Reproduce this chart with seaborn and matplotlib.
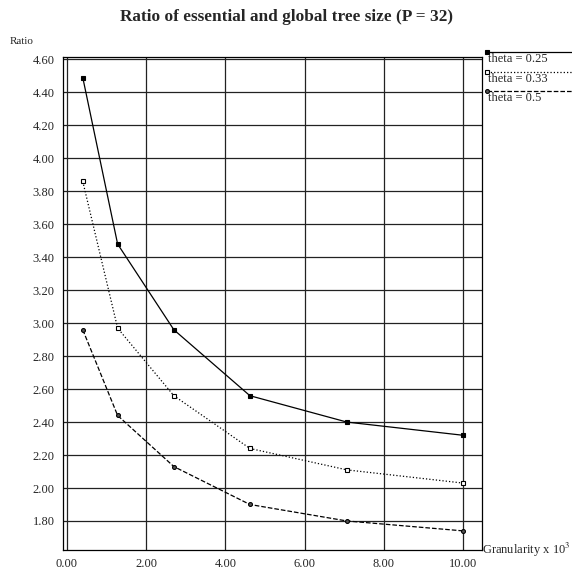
import matplotlib
matplotlib.use('Agg')
import matplotlib.pyplot as plt
import seaborn as sns
import pandas as pd
from matplotlib.lines import Line2D

granularity = [0.40, 1.28, 2.70, 4.62, 7.07, 10.00]
theta_025 = [4.49, 3.48, 2.96, 2.56, 2.40, 2.32]
theta_033 = [3.86, 2.97, 2.56, 2.24, 2.11, 2.03]
theta_050 = [2.96, 2.44, 2.13, 1.90, 1.80, 1.74]
series_names = ['theta = 0.25', 'theta = 0.33', 'theta = 0.5']
y_ticks = [1.80, 2.00, 2.20, 2.40, 2.60, 2.80, 3.00, 3.20, 3.40, 3.60, 3.80, 4.00, 4.20, 4.40, 4.60]
x_ticks = [0.00, 2.00, 4.00, 6.00, 8.00, 10.00]

sns.set_style('white')
plt.rcParams['font.family'] = ['Liberation Serif', 'DejaVu Serif']
plt.rcParams['mathtext.fontset'] = 'stix'

df = pd.DataFrame({
    'Granularity': granularity * 3,
    'Ratio': theta_025 + theta_033 + theta_050,
    'Series': [n for n in series_names for _ in granularity],
})

styles = {
    'theta = 0.25': dict(linestyle='-', marker='s', mfc='black', ms=3.2),
    'theta = 0.33': dict(linestyle=':', marker='s', mfc='white', ms=3.2),
    'theta = 0.5': dict(linestyle='--', marker='o', mfc='#555555', ms=2.8),
}

fig = plt.figure(figsize=(5.72, 5.75), dpi=100)
ax = fig.add_axes([0.1101, 0.0435, 0.7325, 0.8574])

for name in series_names:
    st = styles[name]
    sns.lineplot(data=df[df['Series'] == name], x='Granularity', y='Ratio', ax=ax,
                 color='black', linewidth=0.9, linestyle=st['linestyle'],
                 marker=st['marker'], markersize=st['ms'], markerfacecolor=st['mfc'],
                 markeredgecolor='black', markeredgewidth=0.8, legend=False, zorder=3)

ax.set_xlim(-0.1, 10.48)
ax.set_ylim(1.624, 4.615)
ax.set_xticks(x_ticks)
ax.set_yticks(y_ticks)
ax.set_xticklabels([f'{v:.2f}' for v in x_ticks], fontsize=9)
ax.set_yticklabels([f'{v:.2f}' for v in y_ticks], fontsize=9)
ax.tick_params(length=0, pad=6)
ax.grid(True, color='#222222', linewidth=0.9)
ax.set_axisbelow(True)
for sp in ax.spines.values():
    sp.set_visible(True)
    sp.set_color('black')
    sp.set_linewidth(0.9)
ax.set_xlabel('')
ax.set_ylabel('')

fig.text(0.5, 0.984, 'Ratio of essential and global tree size (P = 32)',
         ha='center', va='top', fontsize=12.4, fontweight='bold')
fig.text(0.017, 0.927, 'Ratio', ha='left', va='center', fontsize=8)
ax.text(1.0, 0.0, 'Granularity x 10$^3$', transform=ax.transAxes,
        ha='left', va='center', fontsize=9)

# legend drawn to the right of the axes, text under each line
leg_y = [52, 72, 91]
for name, yy in zip(series_names, leg_y):
    st = styles[name]
    yf = 1 - yy / 575
    fig.add_artist(Line2D([487 / 572, 1.0], [yf, yf], color='black', linewidth=0.9,
                          linestyle=st['linestyle']))
    fig.add_artist(Line2D([487 / 572], [yf], color='black', marker=st['marker'],
                          markersize=st['ms'], markerfacecolor=st['mfc'],
                          markeredgecolor='black', markeredgewidth=0.8))
    fig.text(488 / 572, yf - 0.002, name, ha='left', va='top', fontsize=9)

fig.savefig('out.png', dpi=100)
